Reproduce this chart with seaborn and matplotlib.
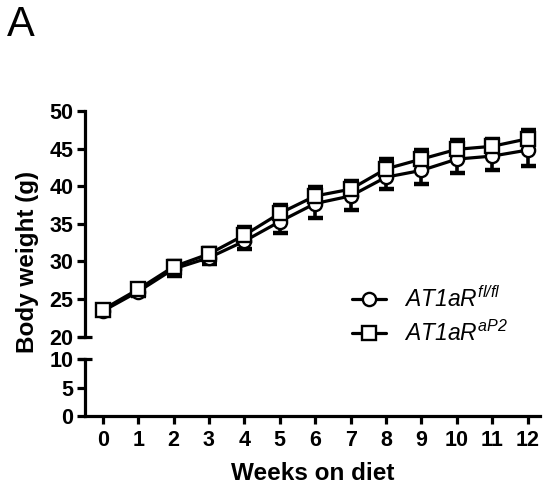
import numpy as np
import matplotlib
matplotlib.use("Agg")
import matplotlib.pyplot as plt
import seaborn as sns

sns.set_theme(style="ticks", rc={"text.color": "black", "axes.labelcolor": "black",
                                 "axes.edgecolor": "black", "xtick.color": "black",
                                 "ytick.color": "black"})
plt.rcParams["font.family"] = ["Liberation Sans", "DejaVu Sans"]
plt.rcParams["mathtext.fontset"] = "custom"
plt.rcParams["mathtext.rm"] = "Liberation Sans:italic"
plt.rcParams["mathtext.it"] = "Liberation Sans:italic"
plt.rcParams["mathtext.bf"] = "Liberation Sans:bold"

weeks = list(range(13))
flfl_mean = [23.4, 26.0, 29.0, 30.5, 32.7, 35.3, 37.7, 38.7, 41.2, 42.1, 43.6, 44.0, 44.8]
flfl_err = [0.5, 0.6, 0.9, 0.9, 1.1, 1.5, 1.9, 1.8, 1.6, 1.8, 1.8, 1.9, 2.1]
ap2_mean = [23.6, 26.3, 29.3, 31.0, 33.5, 36.4, 38.7, 39.6, 42.3, 43.6, 44.9, 45.3, 46.3]
ap2_err = [0.4, 0.5, 0.8, 0.8, 1.1, 1.1, 1.2, 1.1, 1.3, 1.2, 1.2, 1.0, 1.2]
labels = [r"$\mathit{AT1aR}^{\mathit{fl}\mathrm{/}\mathit{fl}}$", r"$\mathit{AT1aR}^{\mathit{aP2}}$"]

lw = 2.3
fig = plt.figure(figsize=(5.45, 4.93), dpi=100)
ax = fig.add_axes([0.156, 0.317, 0.835, 0.458])
axb = fig.add_axes([0.156, 0.156, 0.835, 0.115])

zeros = np.zeros(len(weeks))
ax.errorbar(weeks, flfl_mean, yerr=[flfl_err, zeros], fmt="none", ecolor="black",
            elinewidth=2.6, capsize=5.4, capthick=3.2, zorder=2)
sns.lineplot(x=weeks, y=flfl_mean, ax=ax, color="black", lw=lw, marker="o",
             markersize=9.5, markerfacecolor="white", markeredgecolor="black",
             markeredgewidth=1.7, label=labels[0], zorder=3)
ax.errorbar(weeks, ap2_mean, yerr=[zeros, ap2_err], fmt="none", ecolor="black",
            elinewidth=2.6, capsize=5.4, capthick=3.2, zorder=4)
sns.lineplot(x=weeks, y=ap2_mean, ax=ax, color="black", lw=lw, marker="s",
             markersize=9.5, markerfacecolor="white", markeredgecolor="black",
             markeredgewidth=1.7, label=labels[1], zorder=5)

for a in (ax, axb):
    a.set_xlim(-0.5, 12.35)
    a.spines["top"].set_visible(False)
    a.spines["right"].set_visible(False)
    a.spines["left"].set_linewidth(lw)
    a.spines["bottom"].set_linewidth(lw)
    a.tick_params(width=lw, length=6, labelsize=15.5, color="black",
                  labelcolor="black", pad=2.5)

ax.set_ylim(20, 50)
ax.set_yticks([20, 25, 30, 35, 40, 45, 50])
ax.spines["bottom"].set_visible(False)
ax.tick_params(axis="x", bottom=False, labelbottom=False)
ax.set_xlabel("")
ax.set_ylabel("")

axb.set_ylim(0, 10)
axb.set_yticks([0, 5, 10])
axb.set_xticks(weeks)
axb.tick_params(axis="x", pad=4)
axb.set_xlabel("Weeks on diet", fontsize=17.5, fontweight="bold", labelpad=8)

for t in ax.get_yticklabels() + axb.get_yticklabels() + axb.get_xticklabels():
    t.set_fontweight("bold")

# break marks on the y-axis
ax.plot([0], [20], marker="_", markersize=10, mew=lw, color="black",
        transform=ax.get_yaxis_transform(), clip_on=False)
axb.plot([0], [10], marker="_", markersize=10, mew=lw, color="black",
         transform=axb.get_yaxis_transform(), clip_on=False)

fig.text(28 / 545, 1 - 262 / 493, "Body weight (g)", rotation=90, ha="center",
         va="center", fontsize=17.5, fontweight="bold")
fig.text(0.012, 0.99, "A", ha="left", va="top", fontsize=30)

ax.legend(loc="upper left", bbox_to_anchor=(0.645, 0.42), bbox_transform=fig.transFigure,
          frameon=False, fontsize=16.5, handlelength=1.5, handletextpad=0.8,
          labelspacing=0.4, borderpad=0, borderaxespad=0)

fig.savefig("out.png", dpi=100)
